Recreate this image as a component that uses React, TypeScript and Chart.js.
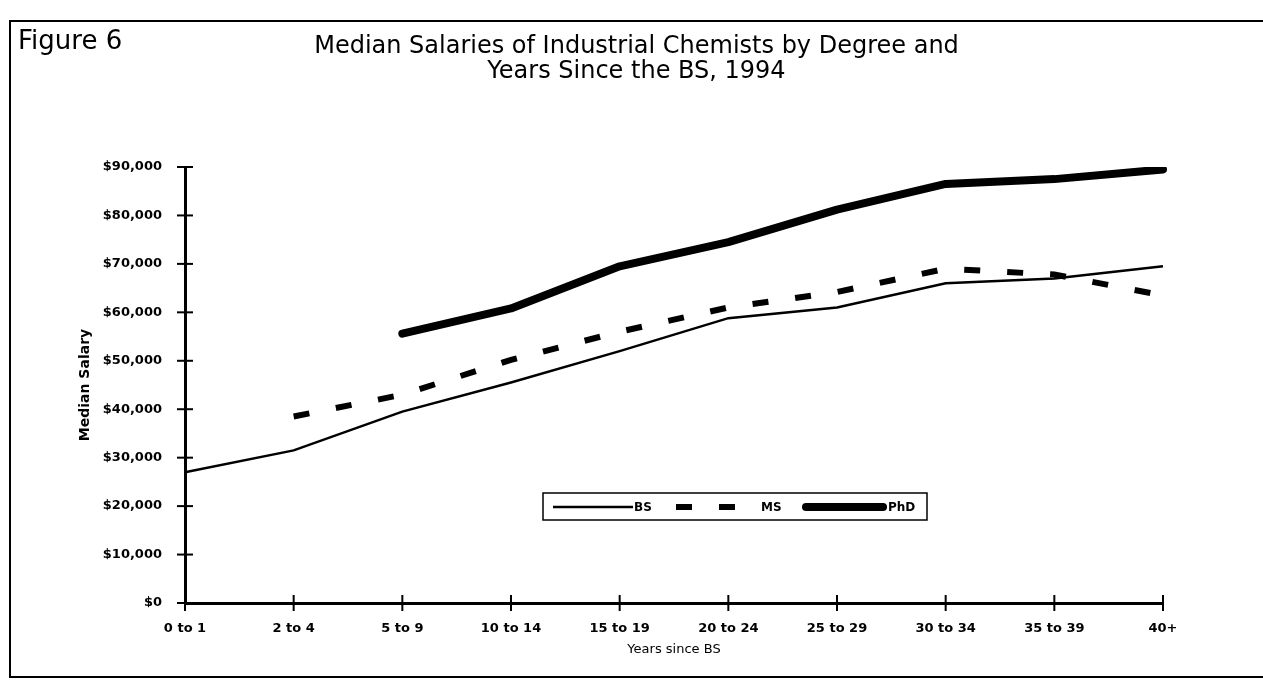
import React, { useEffect, useRef } from "react";
import { Chart, registerables } from "chart.js";

Chart.register(...registerables);

const FONT = "'DejaVu Sans', 'Liberation Sans', Arial, sans-serif";

// ---- data ----
const categories = [
  "0 to 1",
  "2 to 4",
  "5 to 9",
  "10 to 14",
  "15 to 19",
  "20 to 24",
  "25 to 29",
  "30 to 34",
  "35 to 39",
  "40+",
];
const bsSalary = [27000, 31500, 39500, 45500, 52000, 58800, 61000, 66000, 67000, 69500];
const msSalary = [null, 38500, 43000, 50200, 56000, 61000, 64200, 69000, 67800, 63500];
const phdSalary = [null, null, 55600, 60800, 69500, 74500, 81200, 86500, 87500, 89500];
const seriesNames = ["BS", "MS", "PhD"];
const yMin = 0;
const yMax = 90000;
const yStep = 10000;
const titleLines = [
  "Median Salaries of Industrial Chemists by Degree and",
  "Years Since the BS, 1994",
];
const figureLabel = "Figure 6";
const xAxisTitle = "Years since BS";
const yAxisTitle = "Median Salary";

const formatDollars = (v: number) => "$" + Number(v).toLocaleString("en-US");

// ---- plugins ----
const framePlugin = {
  id: "frame",
  beforeDraw(chart: any) {
    const ctx = chart.ctx;
    ctx.save();
    ctx.fillStyle = "#fff";
    ctx.fillRect(0, 0, chart.width, chart.height);
    ctx.strokeStyle = "#000";
    ctx.lineWidth = 2;
    ctx.strokeRect(10, 21, chart.width + 20, 656);
    ctx.fillStyle = "#000";
    ctx.font = `26px ${FONT}`;
    ctx.textAlign = "left";
    ctx.textBaseline = "alphabetic";
    ctx.fillText(figureLabel, 18, 49);
    ctx.restore();
  },
};

const crossTicksPlugin = {
  id: "crossTicks",
  afterDraw(chart: any) {
    const { ctx } = chart;
    const x = chart.scales.x;
    const y = chart.scales.y;
    ctx.save();
    ctx.strokeStyle = "#000";
    ctx.lineWidth = 2;
    const ax = chart.chartArea.left;
    y.ticks.forEach((_: any, i: number) => {
      const py = y.getPixelForTick(i);
      ctx.beginPath();
      ctx.moveTo(ax - 8, py);
      ctx.lineTo(ax + 8, py);
      ctx.stroke();
    });
    const ay = chart.chartArea.bottom;
    x.ticks.forEach((_: any, i: number) => {
      const px = x.getPixelForTick(i);
      ctx.beginPath();
      ctx.moveTo(px, ay - 8);
      ctx.lineTo(px, ay + 8);
      ctx.stroke();
    });
    ctx.restore();
  },
};

const boxLegendPlugin = {
  id: "boxLegend",
  afterDraw(chart: any, _args: any, opts: any) {
    const { ctx } = chart;
    const { box, samples, y } = opts;
    ctx.save();
    ctx.fillStyle = "#fff";
    ctx.fillRect(box.x, box.y, box.w, box.h);
    ctx.strokeStyle = "#000";
    ctx.lineWidth = 1.5;
    ctx.strokeRect(box.x, box.y, box.w, box.h);
    chart.data.datasets.forEach((ds: any, i: number) => {
      const s = samples[i];
      ctx.beginPath();
      ctx.lineWidth = ds.borderWidth;
      ctx.setLineDash(ds.borderDash || []);
      ctx.lineCap = ds.borderCapStyle || "butt";
      ctx.strokeStyle = ds.borderColor;
      ctx.moveTo(s.x0, y);
      ctx.lineTo(s.x1, y);
      ctx.stroke();
      ctx.setLineDash([]);
      ctx.fillStyle = "#000";
      ctx.font = `bold 12px ${FONT}`;
      ctx.textAlign = "left";
      ctx.textBaseline = "middle";
      ctx.fillText(ds.label, s.tx, y + 1);
    });
    ctx.restore();
  },
};

export default function App() {
  const canvasRef = useRef<HTMLCanvasElement | null>(null);

  useEffect(() => {
    if (!canvasRef.current) return;
    const chart = new Chart(canvasRef.current, {
      type: "line",
      data: {
        labels: categories,
        datasets: [
          {
            label: seriesNames[0],
            data: bsSalary,
            borderColor: "#000",
            backgroundColor: "#000",
            borderWidth: 2.5,
            pointRadius: 0,
            tension: 0,
            fill: false,
          },
          {
            label: seriesNames[1],
            data: msSalary,
            borderColor: "#000",
            backgroundColor: "#000",
            borderWidth: 6,
            borderDash: [16, 27],
            borderCapStyle: "butt",
            pointRadius: 0,
            tension: 0,
            fill: false,
          },
          {
            label: seriesNames[2],
            data: phdSalary,
            borderColor: "#000",
            backgroundColor: "#000",
            borderWidth: 8,
            borderCapStyle: "round",
            borderJoinStyle: "round",
            pointRadius: 0,
            tension: 0,
            fill: false,
          },
        ],
      },
      options: {
        responsive: false,
        animation: false,
        devicePixelRatio: 1,
        events: [],
        layout: { padding: { left: 10, right: 0, top: 0, bottom: 0 } },
        plugins: {
          legend: { display: false },
          tooltip: { enabled: false },
          title: {
            display: true,
            text: titleLines,
            color: "#000",
            font: { family: FONT, size: 24, weight: "normal", lineHeight: 1.05 },
            padding: { top: 34.4, bottom: 82.2 },
          },
          boxLegend: {
            box: { x: 543, y: 493, w: 384, h: 27 },
            y: 507,
            samples: [
              { x0: 553, x1: 633, tx: 634 },
              { x0: 676, x1: 756, tx: 761 },
              { x0: 806, x1: 883, tx: 888 },
            ],
          },
        } as any,
        scales: {
          x: {
            type: "category",
            offset: false,
            grid: { display: false, drawTicks: false },
            border: { display: true, color: "#000", width: 3 },
            ticks: {
              color: "#000",
              font: { family: FONT, size: 13, weight: "bold" },
              padding: 18,
              maxRotation: 0,
              autoSkip: false,
            },
            title: {
              display: true,
              text: xAxisTitle,
              color: "#000",
              font: { family: FONT, size: 13, weight: "normal" },
              padding: { top: 0, bottom: 22.2 },
            },
            afterFit: (s: any) => {
              s.height = 77;
            },
          },
          y: {
            type: "linear",
            min: yMin,
            max: yMax,
            grid: { display: false, drawTicks: false },
            border: { display: true, color: "#000", width: 3 },
            ticks: {
              stepSize: yStep,
              color: "#000",
              font: { family: FONT, size: 13, weight: "bold" },
              padding: 23,
              callback: (v: any) => formatDollars(v),
            },
            title: {
              display: true,
              text: yAxisTitle,
              color: "#000",
              font: { family: FONT, size: 14, weight: "bold" },
              padding: { top: 66.6, bottom: 0 },
            },
            afterFit: (s: any) => {
              s.width = 175;
            },
          },
          y2: {
            type: "linear",
            position: "right",
            display: true,
            grid: { display: false, drawTicks: false },
            border: { display: false },
            ticks: { display: false },
            afterFit: (s: any) => {
              s.width = 100;
            },
          },
        } as any,
      },
      plugins: [framePlugin, crossTicksPlugin, boxLegendPlugin],
    } as any);
    return () => chart.destroy();
  }, []);

  return (
    <div style={{ position: "absolute", left: 0, top: 0, width: 1263, height: 680 }}>
      <canvas ref={canvasRef} width={1263} height={680} style={{ display: "block" }} />
    </div>
  );
}
